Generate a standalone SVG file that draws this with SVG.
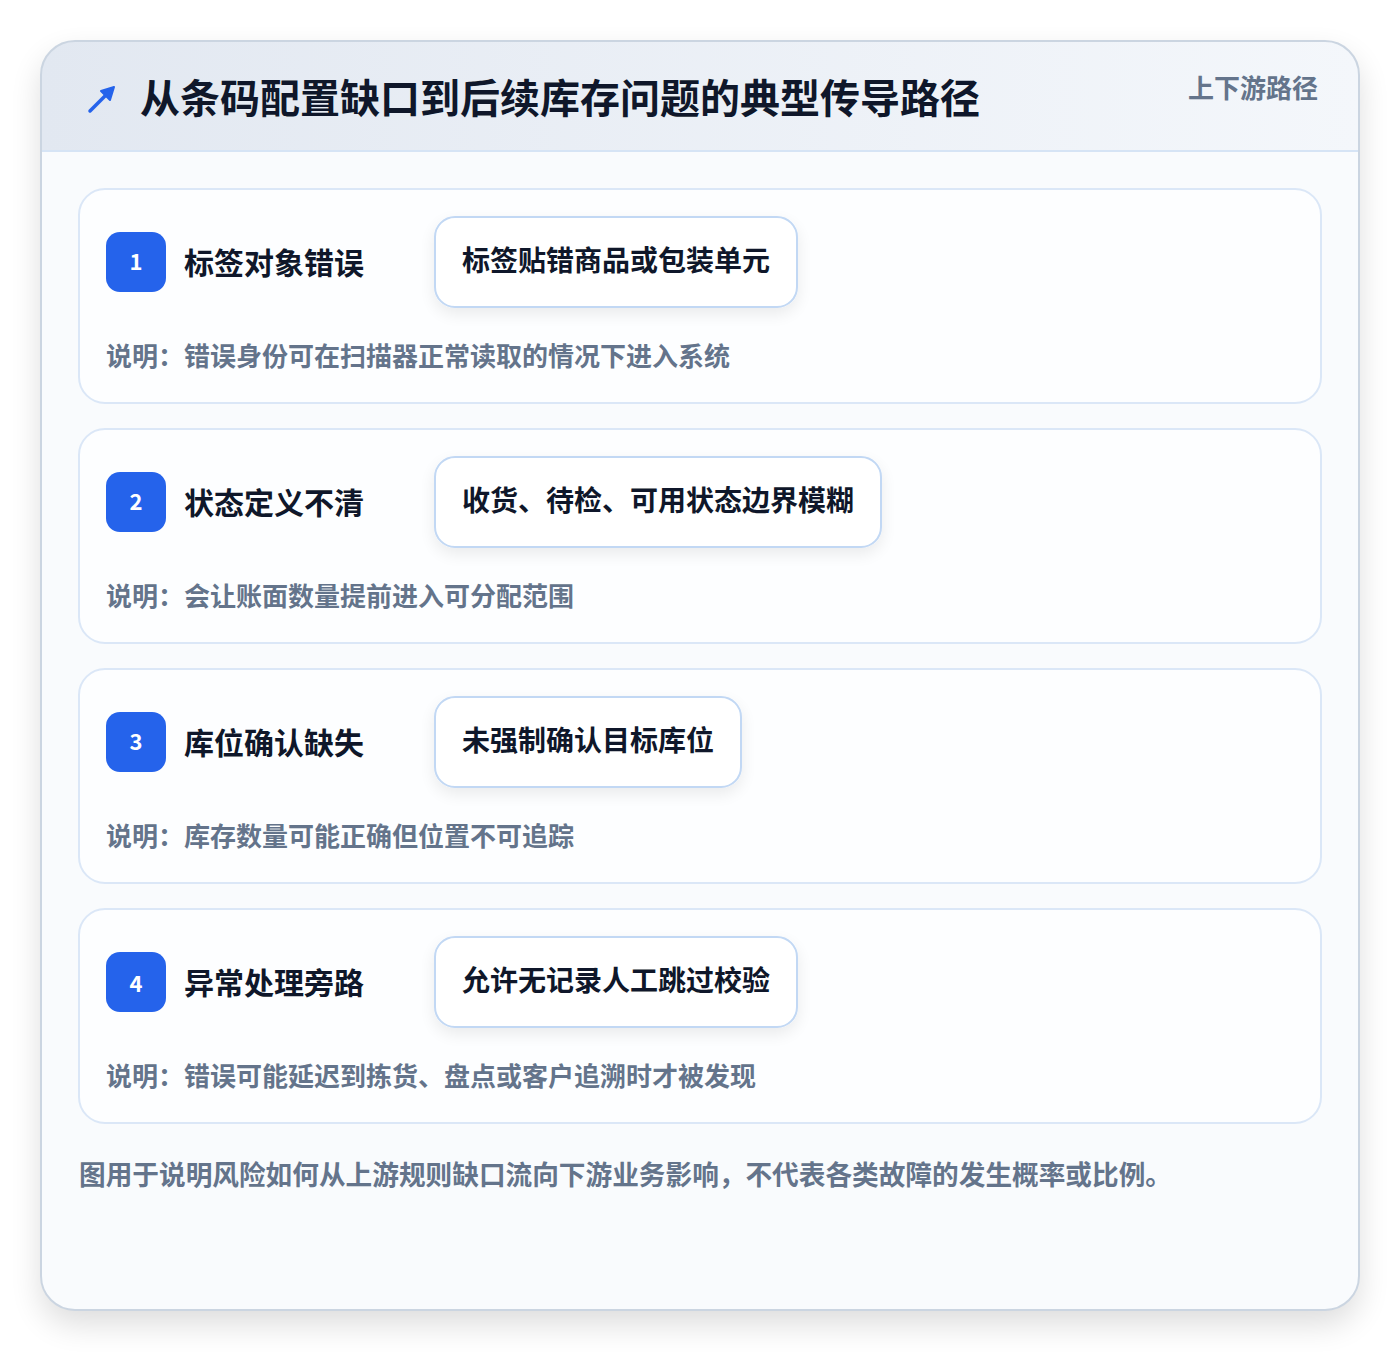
<svg xmlns="http://www.w3.org/2000/svg" width="1400" height="1352" viewBox="0 0 1400 1352">
<defs>
<linearGradient id="hdr" x1="0" y1="0" x2="1" y2="0">
<stop offset="0" stop-color="#e2e8f1"/>
<stop offset="1" stop-color="#f4f7fb"/>
</linearGradient>
<filter id="cardShadow" x="-10%" y="-10%" width="120%" height="125%">
<feGaussianBlur in="SourceAlpha" stdDeviation="16"/>
<feOffset dy="14" result="b"/>
<feComponentTransfer><feFuncA type="linear" slope="0.14"/></feComponentTransfer>
<feMerge><feMergeNode/><feMergeNode in="SourceGraphic"/></feMerge>
</filter>
<filter id="boxShadow" x="-20%" y="-30%" width="140%" height="180%">
<feGaussianBlur in="SourceAlpha" stdDeviation="8"/>
<feOffset dy="6" result="b"/>
<feComponentTransfer><feFuncA type="linear" slope="0.08"/></feComponentTransfer>
<feMerge><feMergeNode/><feMergeNode in="SourceGraphic"/></feMerge>
</filter>
<clipPath id="cardClip"><rect x="41" y="41" width="1318" height="1269" rx="34"/></clipPath>
</defs>
<style>
text{font-family:"Noto Sans CJK SC","Noto Sans",sans-serif;font-weight:700}
.section{fill:#fdfeff;stroke:#dbe7f7;stroke-width:2}
.badge{fill:#2563eb}
.num{fill:#ffffff;font-size:22px;text-anchor:middle}
.title{fill:#0f172a;font-size:30px}
.box{fill:#ffffff;stroke:#c2d8f4;stroke-width:2}
.boxtext{fill:#0f172a;font-size:28px}
.note{fill:#64748b;font-size:26px}
</style>
<rect width="1400" height="1352" fill="#ffffff"/>
<g id="card">
<rect x="41" y="41" width="1318" height="1269" rx="34" fill="#f9fbfd" filter="url(#cardShadow)"/>
<g clip-path="url(#cardClip)">
<rect x="41" y="41" width="1318" height="110" fill="url(#hdr)"/>
</g>
<line x1="41" y1="151" x2="1359" y2="151" stroke="#d6e4f5" stroke-width="2"/>
<rect x="41" y="41" width="1318" height="1269" rx="34" fill="none" stroke="#cbd5e1" stroke-width="2"/>
</g>
<g id="header">
<g stroke="#2563eb" stroke-width="3.5" stroke-linecap="round" fill="#2563eb">
<line x1="90" y1="111" x2="110" y2="91"/>
<path d="M114 87 L101 91 L110 100 Z" stroke-linejoin="round" stroke-width="2"/>
</g>
<text x="140" y="113" fill="#0f172a" font-size="40">从条码配置缺口到后续库存问题的典型传导路径</text>
<text x="1318" y="98" fill="#64748b" font-size="26" text-anchor="end">上下游路径</text>
</g>
<g id="node1">
<rect class="section" x="79" y="189" width="1242" height="214" rx="26"/>
<rect class="badge" x="106" y="232" width="60" height="60" rx="14"/>
<text class="num" x="136" y="270">1</text>
<text class="title" x="184" y="274">标签对象错误</text>
<rect class="box" x="435" y="217" width="362" height="90" rx="20" filter="url(#boxShadow)"/>
<text class="boxtext" x="462" y="271">标签贴错商品或包装单元</text>
<text class="note" x="106" y="366">说明：错误身份可在扫描器正常读取的情况下进入系统</text>
</g>
<g id="node2">
<rect class="section" x="79" y="429" width="1242" height="214" rx="26"/>
<rect class="badge" x="106" y="472" width="60" height="60" rx="14"/>
<text class="num" x="136" y="510">2</text>
<text class="title" x="184" y="514">状态定义不清</text>
<rect class="box" x="435" y="457" width="446" height="90" rx="20" filter="url(#boxShadow)"/>
<text class="boxtext" x="462" y="511">收货、待检、可用状态边界模糊</text>
<text class="note" x="106" y="606">说明：会让账面数量提前进入可分配范围</text>
</g>
<g id="node3">
<rect class="section" x="79" y="669" width="1242" height="214" rx="26"/>
<rect class="badge" x="106" y="712" width="60" height="60" rx="14"/>
<text class="num" x="136" y="750">3</text>
<text class="title" x="184" y="754">库位确认缺失</text>
<rect class="box" x="435" y="697" width="306" height="90" rx="20" filter="url(#boxShadow)"/>
<text class="boxtext" x="462" y="751">未强制确认目标库位</text>
<text class="note" x="106" y="846">说明：库存数量可能正确但位置不可追踪</text>
</g>
<g id="node4">
<rect class="section" x="79" y="909" width="1242" height="214" rx="26"/>
<rect class="badge" x="106" y="952" width="60" height="60" rx="14"/>
<text class="num" x="136" y="992">4</text>
<text class="title" x="184" y="994">异常处理旁路</text>
<rect class="box" x="435" y="937" width="362" height="90" rx="20" filter="url(#boxShadow)"/>
<text class="boxtext" x="462" y="991">允许无记录人工跳过校验</text>
<text class="note" x="106" y="1086">说明：错误可能延迟到拣货、盘点或客户追溯时才被发现</text>
</g>
<g id="connectors"></g>
<g id="footer">
<text x="79" y="1185" fill="#64748b" font-size="27" textLength="1093" lengthAdjust="spacingAndGlyphs">图用于说明风险如何从上游规则缺口流向下游业务影响，不代表各类故障的发生概率或比例。</text>
</g>
</svg>
